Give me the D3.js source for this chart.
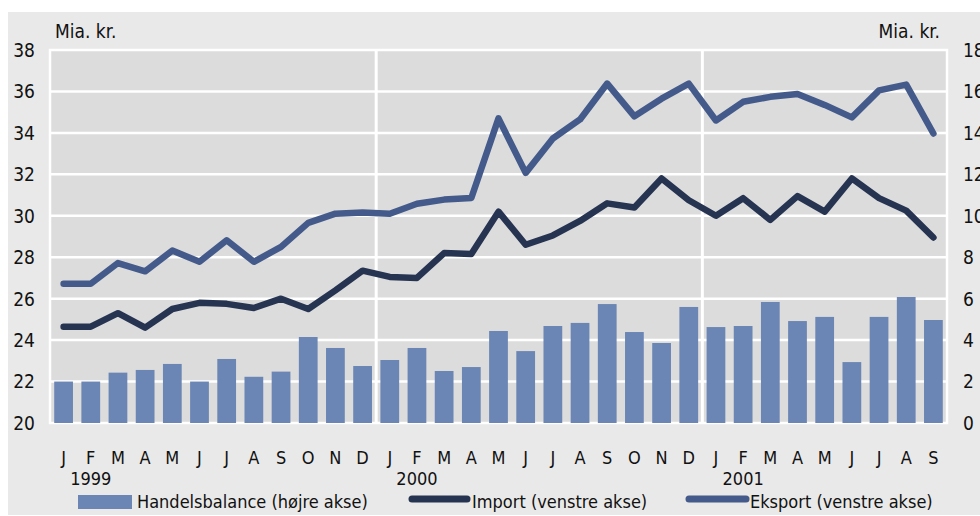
<!DOCTYPE html>
<html>
<head>
<meta charset="utf-8">
<script src="https://cdnjs.cloudflare.com/ajax/libs/d3/7.8.5/d3.min.js"></script>
<style>
  html, body { margin: 0; padding: 0; background: #fff; }
  svg text { font-family: "Liberation Sans Narrow", "DejaVu Sans Condensed", sans-serif; fill: #111; }
</style>
</head>
<body>
<div class="canvas"></div>
<script>
// Months Jan 1999 - Sep 2001
const monthLabels = ['J','F','M','A','M','J','J','A','S','O','N','D',
                     'J','F','M','A','M','J','J','A','S','O','N','D',
                     'J','F','M','A','M','J','J','A','S'];
const years = [
    { label: '1999', index: 1 },
    { label: '2000', index: 13 },
    { label: '2001', index: 25 }
];
// Handelsbalance (right axis)
const balance = [2.0, 2.0, 2.43, 2.56, 2.85, 2.0, 3.09, 2.23, 2.48, 4.15, 3.62, 2.75,
                 3.04, 3.62, 2.51, 2.7, 4.44, 3.47, 4.68, 4.83, 5.74, 4.39, 3.86, 5.6,
                 4.63, 4.68, 5.84, 4.92, 5.12, 2.94, 5.12, 6.08, 4.97];
// Import (left axis)
const imports = [24.65, 24.65, 25.3, 24.6, 25.5, 25.8, 25.75, 25.55, 26.0, 25.5, 26.4, 27.35,
                 27.05, 27.0, 28.2, 28.15, 30.2, 28.6, 29.05, 29.75, 30.6, 30.4, 31.8, 30.75,
                 30.0, 30.85, 29.8, 30.95, 30.2, 31.8, 30.85, 30.25, 28.95];
// Eksport (left axis)
const exports = [26.72, 26.72, 27.72, 27.32, 28.32, 27.78, 28.82, 27.78, 28.5, 29.66, 30.1, 30.16,
                 30.1, 30.58, 30.78, 30.86, 34.7, 32.07, 33.73, 34.65, 36.38, 34.8, 35.65, 36.38,
                 34.6, 35.5, 35.74, 35.88, 35.35, 34.75, 36.05, 36.33, 33.97];
const leftTicks = [20, 22, 24, 26, 28, 30, 32, 34, 36, 38];
const rightTicks = [0, 2, 4, 6, 8, 10, 12, 14, 16, 18];
const legendItems = ['Handelsbalance (højre akse)', 'Import (venstre akse)', 'Eksport (venstre akse)'];

const app = {
    dims: {
        svgWidth: 980,
        svgHeight: 516,
        plotLeft: 50,
        plotRight: 947,
        plotTop: 50,
        plotBottom: 423,
    },
    colors: {
        outer: '#e9e9e9',
        plot: '#dcdcdc',
        bar: '#6b86b4',
        imp: '#263452',
        exp: '#435a8a',
    },
    svg: null,
    x: null,
    yLeft: null,
    yRight: null,

    init: function() {
        const d = app.dims;
        app.svg = d3.select('.canvas')
            .append('svg')
            .attr('width', d.svgWidth)
            .attr('height', d.svgHeight);

        app.x = d3.scaleBand()
            .domain(d3.range(monthLabels.length))
            .range([d.plotLeft, d.plotRight])
            .paddingInner(0.31)
            .paddingOuter(0.155);

        app.yLeft = d3.scaleLinear().domain([20, 38]).range([d.plotBottom, d.plotTop]);
        app.yRight = d3.scaleLinear().domain([0, 18]).range([d.plotBottom, d.plotTop]);

        app.drawFrame();
        app.drawBars();
        app.drawLines();
        app.drawAxes();
        app.drawLegend();
    },

    drawFrame: function() {
        const d = app.dims;
        app.svg.append('rect')
            .attr('x', 8).attr('y', 12)
            .attr('width', d.svgWidth - 8).attr('height', d.svgHeight - 13)
            .attr('fill', app.colors.outer);

        app.svg.append('rect')
            .attr('x', d.plotLeft).attr('y', d.plotTop)
            .attr('width', d.plotRight - d.plotLeft)
            .attr('height', d.plotBottom - d.plotTop)
            .attr('fill', app.colors.plot)
            .attr('stroke', '#fff')
            .attr('stroke-width', 2.5);

        // horizontal grid
        app.svg.append('g')
            .selectAll('line')
            .data(leftTicks.slice(1, -1))
            .enter()
            .append('line')
            .attr('x1', d.plotLeft).attr('x2', d.plotRight)
            .attr('y1', v => app.yLeft(v)).attr('y2', v => app.yLeft(v))
            .attr('stroke', '#fff')
            .attr('stroke-width', 2.5);

        // year separators
        const step = app.x.step();
        app.svg.append('g')
            .selectAll('line')
            .data(years.slice(1))
            .enter()
            .append('line')
            .attr('x1', y => app.x(y.index - 1) - step * app.x.paddingInner() / 2)
            .attr('x2', y => app.x(y.index - 1) - step * app.x.paddingInner() / 2)
            .attr('y1', d.plotTop).attr('y2', d.plotBottom)
            .attr('stroke', '#fff')
            .attr('stroke-width', 3);
    },

    drawBars: function() {
        app.svg.append('g')
            .selectAll('rect')
            .data(balance)
            .enter()
            .append('rect')
            .attr('x', (v, i) => app.x(i))
            .attr('width', app.x.bandwidth())
            .attr('y', v => app.yRight(v))
            .attr('height', v => app.yRight(0) - app.yRight(v))
            .attr('fill', app.colors.bar);
    },

    drawLines: function() {
        const line = d3.line()
            .x((v, i) => app.x(i) + app.x.bandwidth() / 2)
            .y(v => app.yLeft(v));

        [[imports, app.colors.imp], [exports, app.colors.exp]].forEach(([data, color]) => {
            app.svg.append('path')
                .datum(data)
                .attr('fill', 'none')
                .attr('stroke', color)
                .attr('stroke-width', 6.5)
                .attr('stroke-linecap', 'round')
                .attr('stroke-linejoin', 'round')
                .attr('d', line);
        });
    },

    drawAxes: function() {
        app.svg.append('g')
            .selectAll('text')
            .data(leftTicks)
            .enter()
            .append('text')
            .attr('x', 35)
            .attr('y', v => app.yLeft(v))
            .attr('dy', '0.36em')
            .attr('text-anchor', 'end')
            .attr('font-size', 19)
            .text(v => v);

        // right labels run off the edge, as in the source
        app.svg.append('g')
            .selectAll('text')
            .data(rightTicks)
            .enter()
            .append('text')
            .attr('x', 963)
            .attr('y', v => app.yRight(v))
            .attr('dy', '0.36em')
            .attr('text-anchor', 'start')
            .attr('font-size', 19)
            .text(v => v);

        app.svg.append('text')
            .attr('x', 55).attr('y', 38)
            .attr('font-size', 19)
            .text('Mia. kr.');
        app.svg.append('text')
            .attr('x', 940).attr('y', 38)
            .attr('text-anchor', 'end')
            .attr('font-size', 19)
            .text('Mia. kr.');

        // months
        app.svg.append('g')
            .selectAll('text')
            .data(monthLabels)
            .enter()
            .append('text')
            .attr('x', (m, i) => app.x(i) + app.x.bandwidth() / 2)
            .attr('y', 464)
            .attr('text-anchor', 'middle')
            .attr('font-size', 18)
            .text(m => m);

        // years
        app.svg.append('g')
            .selectAll('text')
            .data(years)
            .enter()
            .append('text')
            .attr('x', y => app.x(y.index) + app.x.bandwidth() / 2)
            .attr('y', 485)
            .attr('text-anchor', 'middle')
            .attr('font-size', 18)
            .text(y => y.label);
    },

    drawLegend: function() {
        const g = app.svg.append('g');

        g.append('rect')
            .attr('x', 78).attr('y', 495)
            .attr('width', 54).attr('height', 14)
            .attr('fill', app.colors.bar);
        g.append('text').attr('x', 137).attr('y', 508).attr('font-size', 18).text(legendItems[0]);

        g.append('line')
            .attr('x1', 412).attr('x2', 467).attr('y1', 499).attr('y2', 499)
            .attr('stroke', app.colors.imp).attr('stroke-width', 7).attr('stroke-linecap', 'round');
        g.append('text').attr('x', 472).attr('y', 508).attr('font-size', 18).text(legendItems[1]);

        g.append('line')
            .attr('x1', 689).attr('x2', 746).attr('y1', 499).attr('y2', 499)
            .attr('stroke', app.colors.exp).attr('stroke-width', 7).attr('stroke-linecap', 'round');
        g.append('text').attr('x', 750).attr('y', 508).attr('font-size', 18).text(legendItems[2]);
    },
};

document.addEventListener('DOMContentLoaded', app.init);
</script>
</body>
</html>
